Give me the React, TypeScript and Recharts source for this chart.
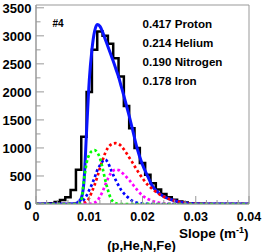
import React from 'react';
import { LineChart, Line, XAxis, YAxis, ReferenceArea } from 'recharts';

// measured histogram, one count per 0.001 bin (bins centred on 0, 0.001, ... 0.039)
const BIN = 0.001;
const histCounts = [
  0, 2, 5, 15, 35, 70, 120, 250, 610, 1200,
  2000, 2750, 3077, 3000, 2860, 2600, 2274, 1750, 1350, 1000,
  730, 520, 370, 260, 180, 120, 75, 45, 25, 12,
  6, 3, 2, 1, 1, 0, 0, 0, 0, 0,
];

// sample points for the fitted curves
const curveX = [
  0, 0.005, 0.007, 0.0075, 0.008, 0.0085, 0.009, 0.0095, 0.01, 0.0105,
  0.011, 0.0115, 0.012, 0.0125, 0.013, 0.0135, 0.014, 0.0145, 0.015, 0.0155,
  0.016, 0.0165, 0.017, 0.0175, 0.018, 0.019, 0.02, 0.021, 0.022, 0.023,
  0.024, 0.025, 0.026, 0.027, 0.028, 0.03, 0.032, 0.035, 0.04,
];
const fitY = [
  0, 0, 5, 12, 40, 100, 390, 1300, 2200, 2750,
  3080, 3200, 3170, 3070, 2940, 2810, 2680, 2550, 2410, 2270,
  2100, 1930, 1750, 1570, 1380, 990, 700, 490, 300, 200,
  135, 90, 58, 35, 20, 6, 2, 1, 0,
];
const protonY = [
  0, 0, 0, 2, 5, 10, 22, 45, 110, 220,
  340, 480, 640, 780, 910, 1000, 1055, 1080, 1085, 1070,
  1035, 975, 905, 830, 756, 600, 460, 340, 255, 185,
  130, 88, 58, 35, 18, 5, 1, 0, 0,
];
const heliumY = [
  0, 0, 0, 0, 5, 60, 420, 730, 880, 945,
  960, 920, 820, 640, 430, 250, 110, 40, 12, 3,
  0, 0, 0, 0, 0, 0, 0, 0, 0, 0,
  0, 0, 0, 0, 0, 0, 0, 0, 0,
];
const nitrogenY = [
  0, 0, 2, 5, 15, 40, 80, 150, 250, 350,
  470, 600, 690, 760, 790, 740, 630, 520, 420, 330,
  250, 190, 140, 100, 60, 22, 6, 2, 0, 0,
  0, 0, 0, 0, 0, 0, 0, 0, 0,
];
const ironY = [
  0, 0, 0, 0, 0, 0, 0, 0, 2, 8,
  25, 55, 130, 220, 340, 450, 540, 595, 615, 605,
  570, 530, 480, 430, 370, 250, 150, 90, 50, 25,
  10, 4, 1, 0, 0, 0, 0, 0, 0,
];

const fractions = ['0.417', '0.214', '0.190', '0.178'];
const species = ['Proton', 'Helium', 'Nitrogen', 'Iron'];

const xTicks = [0, 0.002, 0.004, 0.006, 0.008, 0.01, 0.012, 0.014, 0.016, 0.018, 0.02,
  0.022, 0.024, 0.026, 0.028, 0.03, 0.032, 0.034, 0.036, 0.038, 0.04];
const yTicks = [0, 250, 500, 750, 1000, 1250, 1500, 1750, 2000, 2250, 2500, 2750, 3000, 3250, 3500];

const FONT = '"Liberation Sans", Arial, Helvetica, sans-serif';
const AXIS = '#999';

const histData = histCounts.map((c, i) => ({ x: Math.max(0, (i - 0.5) * BIN), y: c }));
histData.push({ x: histCounts.length * BIN - BIN / 2, y: histCounts[histCounts.length - 1] });

const toRows = (ys: number[]) => curveX.map((x, i) => ({ x, y: ys[i] }));

const isMajorX = (v: number) => Math.abs(v * 100 - Math.round(v * 100)) < 1e-6;

const XTick = (props: any) => {
  const { x, y, payload } = props;
  const v = payload.value;
  const major = isMajorX(v);
  return (
    <g>
      <line x1={x} x2={x} y1={y} y2={y - (major ? 8 : 4)} stroke={AXIS} />
      {major && (
        <text x={x} y={y + 16.5} textAnchor="middle" fontSize={12.5} fontWeight="bold" fontFamily={FONT} fill="#000">
          {v === 0 ? '0' : v.toFixed(2)}
        </text>
      )}
    </g>
  );
};

const YTick = (props: any) => {
  const { x, y, payload } = props;
  const v = payload.value;
  const major = v % 500 === 0;
  return (
    <g>
      <line x1={x} x2={x + (major ? 8 : 4.5)} y1={y} y2={y} stroke={AXIS} />
      {major && (
        <text x={x - 4.5} y={y + 5.5} textAnchor="end" fontSize={13} fontWeight="bold" fontFamily={FONT} fill="#000">
          {v}
        </text>
      )}
    </g>
  );
};

const dotted = { strokeWidth: 2.7, strokeDasharray: '2.7 2.6', dot: false, isAnimationActive: false, type: 'monotone' as const };

export default function App() {
  return (
    <div style={{ position: 'absolute', left: 0, top: 0, width: 262, height: 252, background: '#fff' }}>
      <LineChart width={262} height={252} margin={{ top: 5, right: 13, bottom: 0, left: 0 }}>
        <XAxis
          type="number"
          dataKey="x"
          domain={[0, 0.04]}
          ticks={xTicks}
          interval={0}
          tick={(p: any) => <XTick {...p} />}
          tickLine={false}
          tickSize={0}
          tickMargin={0}
          height={48}
          axisLine={{ stroke: AXIS }}
          allowDataOverflow
        />
        <YAxis
          type="number"
          domain={[0, 3550]}
          ticks={yTicks}
          interval={0}
          tick={(p: any) => <YTick {...p} />}
          tickLine={false}
          tickSize={0}
          tickMargin={0}
          width={36}
          axisLine={{ stroke: AXIS }}
          allowDataOverflow
        />
        <ReferenceArea x1={0} x2={0.04} y1={0} y2={3550} fill="none" stroke={AXIS} strokeWidth={1} />
        <Line data={histData} dataKey="y" type="stepAfter" stroke="#000" strokeWidth={2.5} dot={false} isAnimationActive={false} />
        <Line data={toRows(fitY)} dataKey="y" type="monotone" stroke="#0a14ff" strokeWidth={3} dot={false} isAnimationActive={false} />
        <Line data={toRows(protonY)} dataKey="y" stroke="#ff0000" {...dotted} />
        <Line data={toRows(nitrogenY)} dataKey="y" stroke="#0000ff" {...dotted} />
        <Line data={toRows(ironY)} dataKey="y" stroke="#ff00ff" {...dotted} />
        <Line data={toRows(heliumY)} dataKey="y" stroke="#00ff00" {...dotted} />
      </LineChart>
      <svg width={262} height={252} style={{ position: 'absolute', left: 0, top: 0, pointerEvents: 'none' }}>
        <g fontFamily={FONT} fontWeight="bold" fill="#000">
          <text x={52.5} y={26.5} fontSize={10}>#4</text>
          {fractions.map((f, i) => (
            <text key={f} x={142.5} y={27.5 + i * 19.2} fontSize={11.6}>
              {f} {species[i]}
            </text>
          ))}
          <text x={248.5} y={238} textAnchor="end" fontSize={13.5}>
            Slope (m<tspan dy={-5} fontSize={9}>-1</tspan><tspan dy={5}>)</tspan>
          </text>
          <text x={141.5} y={249.5} textAnchor="middle" fontSize={13}>(p,He,N,Fe)</text>
        </g>
      </svg>
    </div>
  );
}
